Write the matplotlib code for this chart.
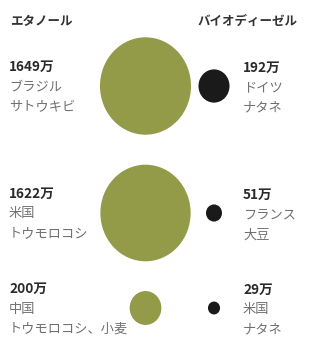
import numpy as np
import matplotlib.pyplot as plt
from matplotlib.patches import Ellipse

plt.rcParams['font.family'] = ['Noto Sans CJK JP', 'DejaVu Sans']

# データ(万トン)
ethanol = [1649, 1622, 200]
ethanol_country = ["ブラジル", "米国", "中国"]
ethanol_crop = ["サトウキビ", "トウモロコシ", "トウモロコシ、小麦"]

biodiesel = [192, 51, 29]
biodiesel_country = ["ドイツ", "フランス", "米国"]
biodiesel_crop = ["ナタネ", "大豆", "ナタネ"]

# レイアウト (ピクセル座標)
row_y = [86, 213, 308]
green = "#939a48"
k = 45.5 / np.sqrt(1649)   # 面積比例の半径
yscale = 1.07

fig = plt.figure(figsize=(3.13, 3.38), dpi=100)
ax = fig.add_axes([0, 0, 1, 1])
ax.set_xlim(0, 313)
ax.set_ylim(338, 0)
ax.axis("off")

ax.text(10, 21, "エタノール", fontsize=9, fontweight="bold", color="#333333", va="center")
ax.text(198, 21, "バイオディーゼル", fontsize=9, fontweight="bold", color="#333333", va="center")

for y, v, c, crop in zip(row_y, ethanol, ethanol_country, ethanol_crop):
    r = k * np.sqrt(v)
    ax.add_patch(Ellipse((145.5, y), 2 * r, 2 * r * yscale, color=green, lw=0))
    ax.text(9, y - 19, f"{v}万", fontsize=9.8, fontweight="bold", color="#2a2a2a", va="center")
    ax.text(9, y + 1, c, fontsize=9.5, color="#707070", va="center")
    ax.text(9, y + 21, crop, fontsize=9.5, color="#707070", va="center")

for y, v, c, crop in zip(row_y, biodiesel, biodiesel_country, biodiesel_crop):
    r = k * np.sqrt(v)
    ax.add_patch(Ellipse((214, y), 2 * r, 2 * r * yscale, color="#1a1a1a", lw=0))
    ax.text(243, y - 18, f"{v}万", fontsize=9.8, fontweight="bold", color="#2a2a2a", va="center")
    ax.text(243, y + 2, c, fontsize=9.5, color="#707070", va="center")
    ax.text(243, y + 22, crop, fontsize=9.5, color="#707070", va="center")

plt.savefig("out.png", dpi=100)
plt.close()
